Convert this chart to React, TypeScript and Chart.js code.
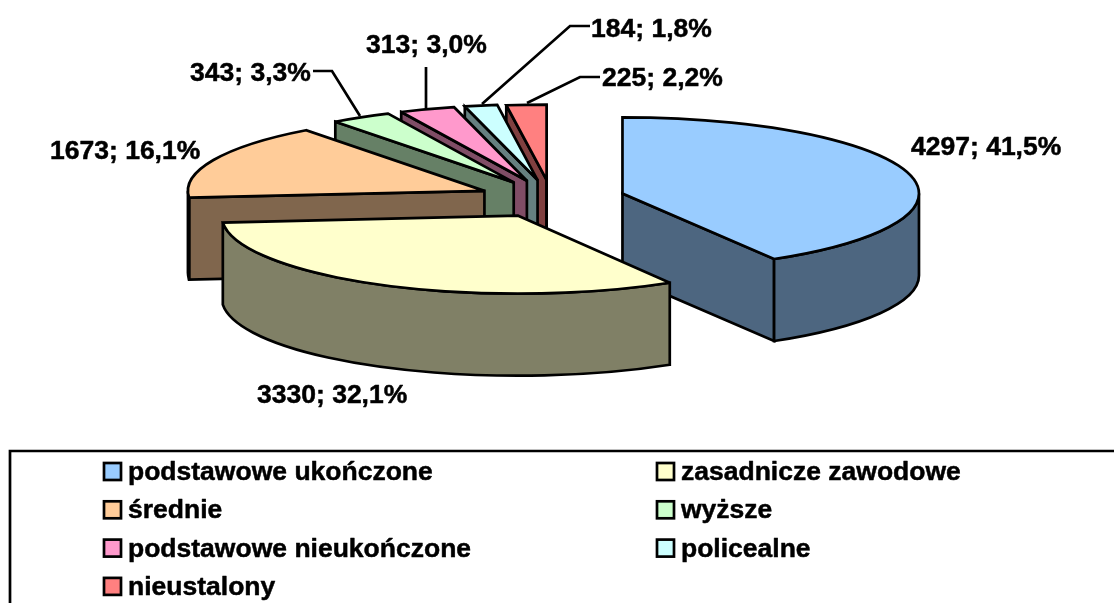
import React, { useEffect, useRef } from "react";
import { Chart, registerables } from "chart.js";

Chart.register(...registerables);

const categories = [
  "podstawowe ukończone",
  "zasadnicze zawodowe",
  "średnie",
  "wyższe",
  "podstawowe nieukończone",
  "policealne",
  "nieustalony",
];
const counts = [4297, 3330, 1673, 343, 313, 184, 225];
const topColors = ["#99CCFF", "#FFFFCC", "#FFCC99", "#CCFFCC", "#FF99CC", "#CCFFFF", "#FF8080"];
const wallColors = ["#4D6680", "#808066", "#80664D", "#668066", "#804D66", "#668080", "#804040"];

// Back-to-front painting order of the slices
const paintOrder = [6, 5, 4, 3, 2, 0, 1];

// Projection of the pie (the front slice looks slightly more open, as in a perspective view)
const CENTER_X = 551.6;
const CENTER_Y = 198.5;
const RADIUS = 296.5;
const sliceTilt = [0.257, 0.263, 0.256, 0.256, 0.256, 0.256, 0.254];
const EXPLODE = 73.5;
const DEPTH = 82;
const LINE = 2.7;

const FONT = 'bold 26.5px "Liberation Sans", Arial, sans-serif';

// Data label placement: text left x, baseline y, leader polyline
const labelLayout = [
  { x: 911, y: 155, leader: [] as number[][] },
  { x: 257, y: 403, leader: [] as number[][] },
  { x: 50, y: 159, leader: [] as number[][] },
  { x: 190, y: 81, leader: [[313, 71], [332, 71], [360, 116]] },
  { x: 366, y: 53, leader: [[426, 67], [426, 108]] },
  { x: 591, y: 37, leader: [[590, 26], [570, 26], [482, 104]] },
  { x: 602, y: 86, leader: [[600, 77], [580, 77], [527, 103]] },
];

const fmtLabel = (i: number) => {
  const total = counts.reduce((a, b) => a + b, 0);
  return `${counts[i]}; ${((counts[i] / total) * 100).toFixed(1).replace(".", ",")}%`;
};

const heavyText = (ctx: CanvasRenderingContext2D, s: string, x: number, y: number) => {
  ctx.save();
  ctx.lineWidth = 0.5;
  ctx.lineJoin = "round";
  ctx.fillText(s, x, y);
  ctx.strokeText(s, x, y);
  ctx.restore();
};

const pie3d = {
  id: "pie3d",
  beforeDatasetsDraw(chart: any) {
    const { ctx } = chart;
    const arcs = chart.getDatasetMeta(0).data;
    ctx.save();
    ctx.lineWidth = LINE;
    ctx.strokeStyle = "#000";
    ctx.lineJoin = "miter";
    ctx.miterLimit = 3;
    for (const i of paintOrder) {
      const arc = arcs[i];
      const TILT = sliceTilt[i];
      const a0: number = arc.startAngle;
      const a1: number = arc.endAngle;
      const mid = (a0 + a1) / 2;
      const R: number = arc.outerRadius;
      const ax = CENTER_X + EXPLODE * Math.cos(mid);
      const ay = CENTER_Y + EXPLODE * TILT * Math.sin(mid);
      const px = (a: number) => ax + R * Math.cos(a);
      const py = (a: number) => ay + R * TILT * Math.sin(a);

      const wall = (a: number) => {
        ctx.beginPath();
        ctx.moveTo(ax, ay);
        ctx.lineTo(px(a), py(a));
        ctx.lineTo(px(a), py(a) + DEPTH);
        ctx.lineTo(ax, ay + DEPTH);
        ctx.closePath();
        ctx.fillStyle = wallColors[i];
        ctx.fill();
        ctx.stroke();
      };
      // radial cut faces turned towards the viewer
      if (Math.cos(a0) < 0) wall(a0);
      if (Math.cos(a1) > -1e-6) wall(a1);

      // outer curved face: the part on the lower half of the ellipse
      const TAU = Math.PI * 2;
      for (const k of [-1, 0, 1]) {
        const s = Math.max(a0, k * TAU);
        const e = Math.min(a1, k * TAU + Math.PI);
        if (e > s) {
          ctx.beginPath();
          ctx.ellipse(ax, ay, R, R * TILT, 0, s, e);
          ctx.ellipse(ax, ay + DEPTH, R, R * TILT, 0, e, s, true);
          ctx.closePath();
          ctx.fillStyle = wallColors[i];
          ctx.fill();
          ctx.stroke();
        }
      }

      // top face: the library's own arc, squashed and moved into place
      ctx.save();
      ctx.translate(ax, ay);
      ctx.scale(1, TILT);
      ctx.translate(-arc.x, -arc.y);
      arc.draw(ctx);
      ctx.restore();
      ctx.beginPath();
      ctx.moveTo(ax, ay);
      ctx.ellipse(ax, ay, R, R * TILT, 0, a0, a1);
      ctx.closePath();
      ctx.stroke();
    }
    ctx.restore();
    return false;
  },
  afterDraw(chart: any) {
    const { ctx } = chart;
    ctx.save();
    ctx.font = FONT;
    ctx.fillStyle = "#000";
    ctx.strokeStyle = "#000";
    ctx.lineWidth = LINE;
    ctx.textBaseline = "alphabetic";
    ctx.textAlign = "left";
    ctx.lineJoin = "miter";

    // data labels and leader lines
    labelLayout.forEach((l, i) => {
      heavyText(ctx, fmtLabel(i), l.x, l.y);
      if (l.leader.length) {
        ctx.beginPath();
        l.leader.forEach(([x, y], j) => (j ? ctx.lineTo(x, y) : ctx.moveTo(x, y)));
        ctx.stroke();
      }
    });

    // legend: box runs past the right and bottom of the picture
    ctx.beginPath();
    ctx.rect(10, 451, 1200, 300);
    ctx.stroke();
    const labels: string[] = chart.data.labels;
    labels.forEach((name, i) => {
      const col = i % 2;
      const row = Math.floor(i / 2);
      const sx = col ? 657 : 104;
      const sy = 463 + row * 38.3;
      ctx.fillStyle = topColors[i];
      ctx.fillRect(sx, sy, 17, 17);
      ctx.strokeRect(sx, sy, 17, 17);
      ctx.fillStyle = "#000";
      heavyText(ctx, name, col ? 681 : 128, 480 + row * 38.3);
    });
    ctx.restore();
  },
};

export default function App() {
  const ref = useRef<HTMLCanvasElement>(null);
  useEffect(() => {
    const chart = new Chart(ref.current as HTMLCanvasElement, {
      type: "pie",
      data: {
        labels: categories,
        datasets: [{ data: counts, backgroundColor: topColors, borderWidth: 0 }],
      },
      options: {
        animation: false,
        responsive: false,
        radius: RADIUS,
        events: [],
        plugins: { legend: { display: false }, tooltip: { enabled: false } },
      } as any,
      plugins: [pie3d as any],
    });
    return () => chart.destroy();
  }, []);
  return (
    <div style={{ position: "fixed", left: 0, top: 0, width: 1114, height: 603, background: "#fff", overflow: "hidden" }}>
      <canvas ref={ref} width={1114} height={603} style={{ display: "block" }} />
    </div>
  );
}
